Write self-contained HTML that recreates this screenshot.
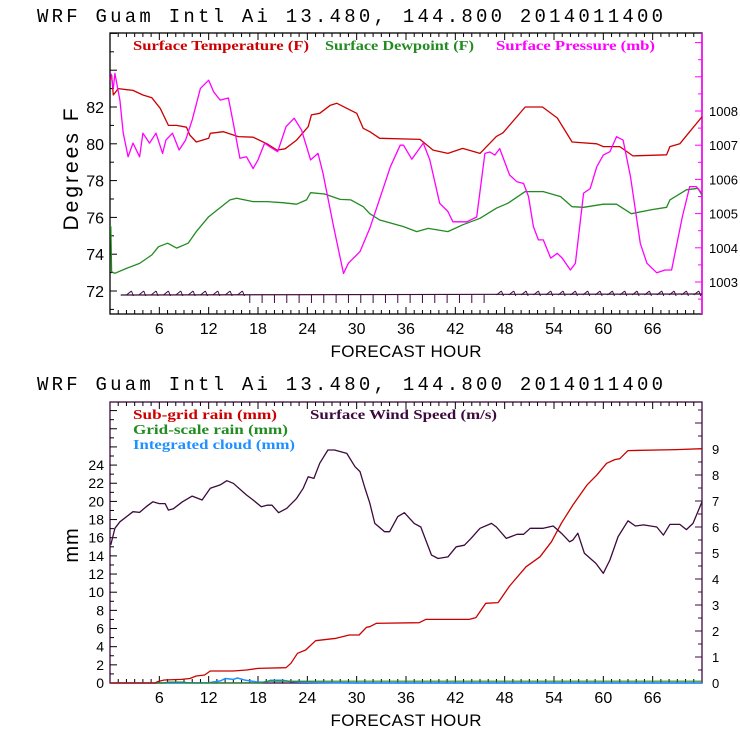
<!DOCTYPE html>
<html><head><meta charset="utf-8"><style>
html,body{margin:0;padding:0;background:#fff;width:740px;height:740px;overflow:hidden}
svg{display:block}
.t{font-family:"Liberation Mono",monospace;fill:#000}
.lg{font-family:"Liberation Serif",serif;font-size:14px;font-weight:bold}
.ax{font-family:"Liberation Sans",sans-serif;fill:#000}
</style></head><body>
<svg id="c" width="740" height="740" viewBox="0 0 740 740">
<text class="t" x="37" y="22" style="font-size:19px" textLength="626" lengthAdjust="spacing">WRF  Guam Intl Ai  13.480, 144.800  2014011400</text>
<text class="t" x="37" y="390" style="font-size:19px" textLength="626" lengthAdjust="spacing">WRF  Guam Intl Ai  13.480, 144.800  2014011400</text>
<text class="lg" x="133" y="50" fill="#cc0000" textLength="176" lengthAdjust="spacingAndGlyphs">Surface Temperature (F)</text>
<text class="lg" x="325" y="50" fill="#228b22" textLength="149" lengthAdjust="spacingAndGlyphs">Surface Dewpoint (F)</text>
<text class="lg" x="496" y="50" fill="#ff00ff" textLength="159" lengthAdjust="spacingAndGlyphs">Surface Pressure (mb)</text>
<text class="lg" x="133" y="419" fill="#cc0000" textLength="144" lengthAdjust="spacingAndGlyphs">Sub-grid rain (mm)</text>
<text class="lg" x="310" y="419" fill="#3d0a3d" textLength="187" lengthAdjust="spacingAndGlyphs">Surface Wind Speed (m/s)</text>
<text class="lg" x="133" y="434" fill="#228b22" textLength="155" lengthAdjust="spacingAndGlyphs">Grid-scale rain (mm)</text>
<text class="lg" x="133" y="449" fill="#1e90ff" textLength="162" lengthAdjust="spacingAndGlyphs">Integrated cloud (mm)</text>
<text class="ax" style="font-size:21px;letter-spacing:3px" transform="translate(78,168) rotate(-90)" text-anchor="middle">Degrees F</text>
<text class="ax" style="font-size:20px;letter-spacing:1px" transform="translate(78,545) rotate(-90)" text-anchor="middle">mm</text>
<text class="ax" style="font-size:17px" x="406" y="357" text-anchor="middle" textLength="151" lengthAdjust="spacing">FORECAST HOUR</text>
<text class="ax" style="font-size:17px" x="406" y="726" text-anchor="middle" textLength="151" lengthAdjust="spacing">FORECAST HOUR</text>
</svg>
<script>
const tempHours=[0,0.2,0.4,1,2.8,4,5.1,6.1,7.1,8.1,9.3,9.7,10.5,12,12.2,13.8,15.6,17.4,19.1,20.3,21.3,22.7,24.1,24.5,25.5,26.8,27.6,30,30.8,31.6,32.8,37.7,39.3,41.1,42.9,45,47,47.8,50.5,52.6,54.4,56.2,59.2,60,62,63.6,67.7,68.1,69.3,70.5,72];
const tempVals=[83.5,83.74,82.65,83.0,82.9,82.65,82.5,81.93,81.0,81.0,80.9,80.48,80.1,80.3,80.57,80.66,80.39,80.36,80.0,79.66,79.73,80.2,80.93,81.57,81.66,82.1,82.2,81.66,80.84,80.66,80.3,80.24,79.66,79.48,79.75,79.48,80.4,80.6,82.0,82.0,81.4,80.1,80.0,79.85,79.85,79.34,79.4,79.85,80.0,80.66,81.47];
const dewHours=[0,0.1,0.2,0.6,2,3.6,5.1,5.9,7,8.1,9.5,10.5,12,13.3,14.6,15.4,17.4,19.1,21,22.7,23.9,24.4,26.1,28,29.3,30.8,31.6,32.8,35.7,37.3,38.7,41.1,42.9,45,47,48.4,50.5,52.7,54.8,56.2,57.6,60,61.6,63.4,66,67.7,68.1,70.1,71.5,72];
const dewVals=[75.5,75.5,73.05,72.96,73.23,73.5,73.96,74.41,74.6,74.33,74.6,75.23,76.04,76.5,76.95,77.04,76.86,76.86,76.8,76.72,76.95,77.34,77.27,76.98,76.95,76.58,76.2,75.86,75.5,75.23,75.4,75.23,75.6,75.95,76.5,76.77,77.4,77.4,77.13,76.58,76.55,76.72,76.72,76.2,76.43,76.55,76.95,77.5,77.58,77.2];
const presHours=[0.1,0.4,0.6,1.2,1.6,2.2,2.8,3.6,4,4.8,5.6,6.4,6.8,7.6,8.4,9.2,10,11,12,12.6,13.4,14.4,15,15.8,16.6,17.4,18,18.8,19.4,20.4,21.4,22.4,23.3,24.4,25.3,25.9,27.2,28.4,29,30.4,31.6,33.3,34.1,35.3,35.7,36.7,38.1,38.9,40.1,41.1,41.7,43.4,44.6,45.6,46.2,46.8,47.4,48.6,49.5,50.3,50.9,51.5,52.1,52.7,53.6,54.4,55,56,56.6,57.6,58.4,59.2,60,60.8,61.6,62.4,63.3,64.5,65.3,66.5,67.5,68.3,69.6,70.5,71.3,72];
const presVals=[1009.1,1008.66,1009.1,1008.32,1007.36,1006.66,1007.06,1006.66,1007.35,1007.06,1007.35,1006.76,1007.15,1007.35,1006.86,1007.15,1007.74,1008.66,1008.9,1008.56,1008.32,1008.38,1007.64,1006.62,1006.66,1006.32,1006.57,1007.06,1006.96,1006.81,1007.54,1007.79,1007.44,1006.57,1006.76,1006.18,1004.62,1003.25,1003.55,1003.89,1004.57,1005.79,1006.37,1007.0,1007.0,1006.59,1007.06,1006.57,1005.3,1005.06,1004.76,1004.76,1004.9,1006.76,1006.8,1006.71,1006.9,1006.13,1005.93,1005.88,1005.5,1004.62,1004.23,1004.23,1003.7,1003.84,1003.7,1003.35,1003.55,1005.6,1005.73,1006.37,1006.71,1006.81,1007.25,1007.15,1006.08,1004.13,1003.55,1003.27,1003.35,1003.35,1004.9,1005.79,1005.79,1005.59];
const windHours=[0.1,0.6,1.2,2.8,3.6,4.4,5.2,6,6.7,7.1,7.7,8.8,10,11.2,12.2,13.4,14.2,15,16.6,17.4,18.4,19.1,19.7,20.5,21.5,22.7,23.5,24.1,24.8,25.5,26.5,27.3,28.8,29.8,30.4,31,31.6,32.2,33.4,34,35,35.8,37,37.8,39.1,39.9,41.1,42.1,43.1,43.9,45,46.4,47,48.2,49.5,50.3,51.1,52.7,53.9,54.9,55.9,56.3,56.9,57.7,59.1,60,60.8,61.8,63,63.9,64.9,66.5,67.3,68.1,69.3,70.1,70.9,72];
const windVals=[5.31,5.95,6.2,6.59,6.56,6.78,6.97,6.9,6.9,6.65,6.7,6.97,7.19,7.04,7.49,7.62,7.78,7.68,7.23,7.04,6.78,6.84,6.84,6.55,6.72,7.1,7.49,7.93,7.87,8.45,8.96,8.96,8.83,8.32,8.13,7.5,6.92,6.14,5.82,5.82,6.4,6.55,6.14,6.0,4.92,4.79,4.85,5.24,5.3,5.56,5.95,6.14,6.0,5.56,5.72,5.72,5.95,5.95,6.04,5.76,5.43,5.5,5.76,4.99,4.6,4.22,4.73,5.63,6.24,6.04,6.08,6.0,5.69,6.1,6.1,5.9,6.14,6.97];
const rainHours=[0,5.5,5.8,6.6,8.7,9.7,10.5,11.5,12.2,15,16.6,18,21.4,22,22.8,23.8,25,27.5,29.1,30.3,31.2,31.6,32.4,37.6,38.4,43.7,44.5,45.7,47.2,48.6,50.6,52.3,53.7,54.9,56.3,58,59.2,60.4,61.4,62,63,68.9,72];
const rainVals=[0,0,0.15,0.33,0.4,0.5,0.77,0.88,1.32,1.32,1.43,1.61,1.69,2.17,3.27,3.63,4.66,4.92,5.29,5.29,6.13,6.2,6.57,6.64,7.0,7.0,7.2,8.78,8.85,10.68,12.8,13.9,15.56,17.6,19.6,21.8,22.9,24.2,24.6,24.7,25.6,25.7,25.8];
const gridHours=[0,6.5,7,9,9.5,18.5,19,72];
const gridVals=[0,0,0.1,0.1,0.02,0.02,0.2,0.2];
const cloudHours=[0,12,12.2,13.5,14,15,15.5,16.5,18,19,19.5,21,22,23,25,30,72];
const cloudVals=[0,0,0.05,0.25,0.5,0.4,0.55,0.3,0.1,0.1,0.3,0.3,0.15,0.1,0.05,0,0];
const xTickLabels=[6,12,18,24,30,36,42,48,54,60,66];
const tempTickLabels=[72,74,76,78,80,82];
const presTickLabels=[1003,1004,1005,1006,1007,1008];
const mmTickLabels=[0,2,4,6,8,10,12,14,16,18,20,22,24];
const windTickLabels=[0,1,2,3,4,5,6,7,8,9];

const NS='http://www.w3.org/2000/svg';
const svg=document.getElementById('c');
const X0=110,X1=702;
const xs=h=>X0+(X1-X0)*h/72;
const T={top:33,bot:314};
const B={top:402,bot:683};
const yTemp=v=>107-(v-82)*18.4;
const yPres=v=>111-(v-1008)*34.2;
const yMm=v=>683-v*9.08;
const yWind=v=>683-v*26;
function mk(tag,attrs){const e=document.createElementNS(NS,tag);for(const k in attrs)e.setAttribute(k,attrs[k]);svg.appendChild(e);return e;}
function line(x1,y1,x2,y2,c,w){return mk('line',{x1:x1,y1:y1,x2:x2,y2:y2,stroke:c,'stroke-width':w||1});}
function series(hours,vals,yf,color,w){
  const pts=hours.map((h,i)=>xs(h).toFixed(1)+','+yf(vals[i]).toFixed(1)).join(' ');
  return mk('polyline',{points:pts,fill:'none',stroke:color,'stroke-width':w||1.3,'stroke-linejoin':'round'});
}
function txt(x,y,s,anchor,size){const e=mk('text',{x:x,y:y,'text-anchor':anchor,class:'ax',style:'font-size:'+(size||15)+'px'});e.textContent=s;return e;}

let f=mk('rect',{x:X0,y:T.top,width:X1-X0,height:T.bot-T.top,fill:'none',stroke:'#000','stroke-width':1.3});


let rm=line(X1,T.top,X1,T.bot,'#ff00ff',1.5);


let f2=mk('rect',{x:X0,y:B.top,width:X1-X0,height:B.bot-B.top,fill:'none',stroke:'#3d0a3d','stroke-width':1.3});



for(const P of [T,B]){
  for(let h=1;h<72;h++){
    const L=h%6===0?7:4;
    line(xs(h),P.bot,xs(h),P.bot-L,'#000',1);
    line(xs(h),P.top,xs(h),P.top+L,'#000',1);
  }
  xTickLabels.forEach(h=>{
    const e=txt(xs(h),P.bot+20,String(h),'middle',16);
    
    
  });
}
for(let v=71;v<=86;v++){const L=v%2===0?7:4;line(X0,yTemp(v),X0+L,yTemp(v),'#000',1);}
tempTickLabels.forEach(v=>{const e=txt(X0-6,yTemp(v)+6,String(v),'end',16);

});
for(let v=1002.5;v<=1010.2;v+=0.5){const L=Math.abs(v-Math.round(v))<0.01?7:4;line(X1,yPres(v),X1-L,yPres(v),'#ff00ff',1);}
presTickLabels.forEach(v=>{const e=txt(X1+7,yPres(v)+5,String(v),'start',13);

});
for(let v=1;v<=30;v++){const L=v%2===0?7:4;line(X0,yMm(v),X0+L,yMm(v),'#000',1);}
mmTickLabels.forEach(v=>{const e=txt(X0-6,yMm(v)+5,String(v),'end',14);

});
for(let v=0.5;v<=10.5;v+=0.5){const L=Math.abs(v-Math.round(v))<0.01?7:4;line(X1,yWind(v),X1-L,yWind(v),'#3d0a3d',1);}
windTickLabels.forEach(v=>{const e=txt(X1+10,yWind(v)+5,String(v),'start',13);

});

const by=295;
let staff=line(xs(1.3),by,X1,by-1,'#3d0a3d',1.2);


for(let h=2;h<72;h+=1.5){
  const x=xs(h);
  if(h<16||h>46){line(x,by,x+5,by-4,'#3d0a3d',1);line(x+5,by-4,x+7,by+1,'#3d0a3d',1);}
  else line(x,by,x,by+8,'#3d0a3d',1);
}

let s;
s=series(tempHours,tempVals,yTemp,'#cc0000');


s=series(dewHours,dewVals,yTemp,'#228b22');


s=series(presHours,presVals,yPres,'#ff00ff');


s=series(cloudHours,cloudVals,yMm,'#1e90ff',1.5);


s=series(gridHours,gridVals,yMm,'#228b22',1.2);


s=series(rainHours,rainVals,yMm,'#cc0000');


s=series(windHours,windVals,yWind,'#3d0a3d');


</script>
</body></html>
